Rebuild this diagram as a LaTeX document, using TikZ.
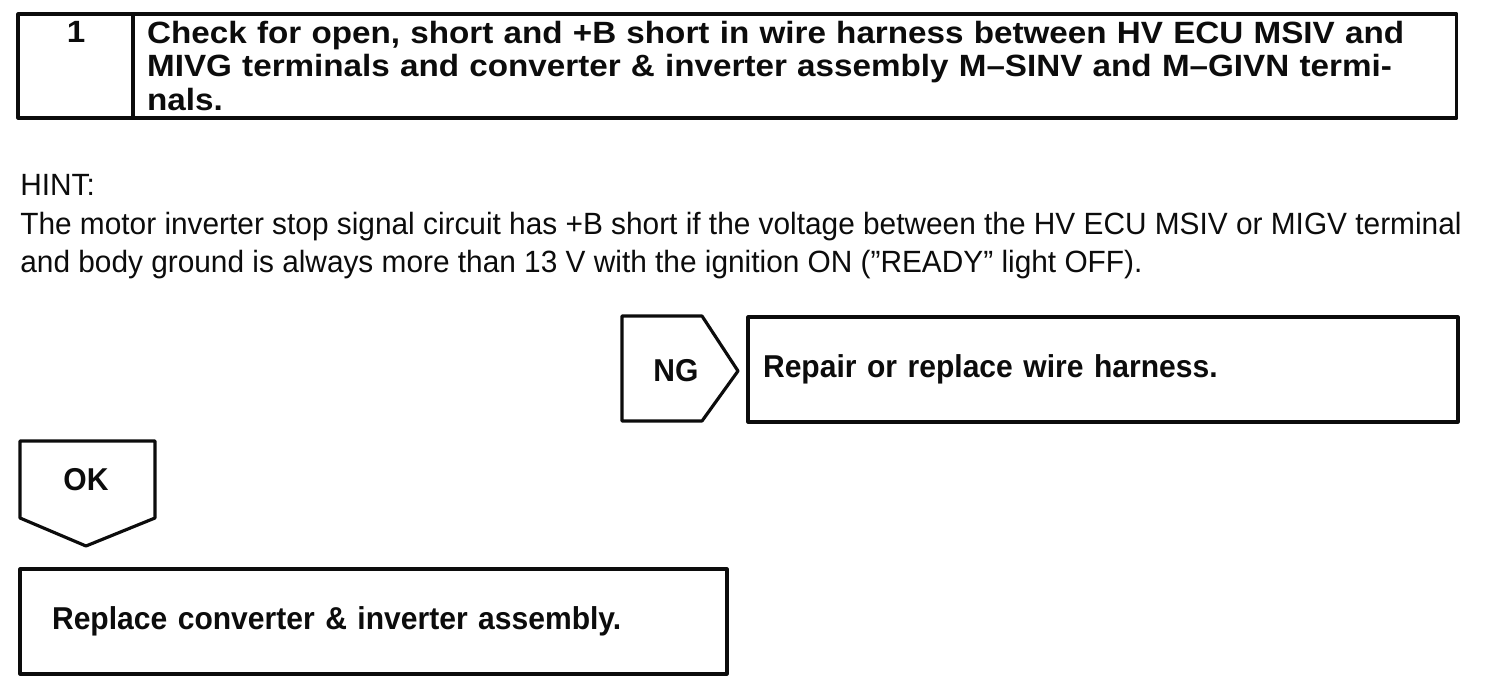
\documentclass[tikz,border=0pt]{standalone}
\usepackage{fontspec}
\setmainfont{Liberation Sans}
\newfontfamily\titlefont{Liberation Sans}[FakeStretch=1.08]
\newfontfamily\boxfont{Liberation Sans}[FakeStretch=0.95]
\newfontfamily\hintfont{Liberation Sans}[FakeStretch=0.97]
\usetikzlibrary{positioning}
\definecolor{Ink}{RGB}{12,12,12}
\tikzset{
  frame/.style={draw=Ink,line width=1.8pt,inner sep=0pt,line join=round},
  stepbox/.style={frame,align=left,text=Ink,font=\boxfont\bfseries\fontsize{18}{21}\selectfont,minimum height=2.1cm},
  flagtext/.style={text=Ink,inner sep=0pt,font=\boxfont\bfseries\fontsize{18}{21}\selectfont},
  title/.style={text=Ink,font=\titlefont\bfseries\fontsize{17.5}{18.8}\selectfont},
  hint/.style={text=Ink,font=\hintfont\fontsize{17.5}{22}\selectfont,align=left,anchor=north west,inner sep=0pt}
}
\begin{document}
\begin{tikzpicture}[x=0.02cm,y=-0.02cm]
  \useasboundingbox (0,0) rectangle (1504,692);
  % step 1
  \node[frame,minimum width=2.3cm,minimum height=2.08cm] (numcell) at (75.5,66) {};
  \node[title,anchor=base,inner sep=0pt] (num) at (76,43) {1};
  \node[frame,title,align=left,minimum height=2.08cm,inner xsep=0.28cm,text width=25.92cm] (check) at (795,66)
    {Check for open, short and +B short in wire harness between HV ECU MSIV and\\MIVG terminals and converter \& inverter assembly M–SINV and M–GIVN termi-\\nals.};
  \node[hint] (hint) at (20,174) {HINT:\\The motor inverter stop signal circuit has +B short if the voltage between the HV ECU MSIV or MIGV terminal\\and body ground is always more than 13 V with the ignition ON (”READY” light OFF).};
  % NG branch
  \node[flagtext] (ng) at (676,371) {NG};
  \draw[frame] (622,316) -- (702,316) -- (738,371) -- (702,421) -- (622,421) -- cycle;
  \node[stepbox,inner xsep=0.3cm,text width=13.6cm] (repair) at (1103,369.5) {Repair or replace wire harness.};
  % OK branch
  \node[flagtext] (ok) at (86,480) {OK};
  \draw[frame] (20,441) -- (155,441) -- (155,518) -- (86,546) -- (20,518) -- cycle;
  \node[stepbox,inner xsep=0.64cm,text width=12.86cm] (replace) at (373.5,621.5) {Replace converter \& inverter assembly.};
\end{tikzpicture}
\end{document}
